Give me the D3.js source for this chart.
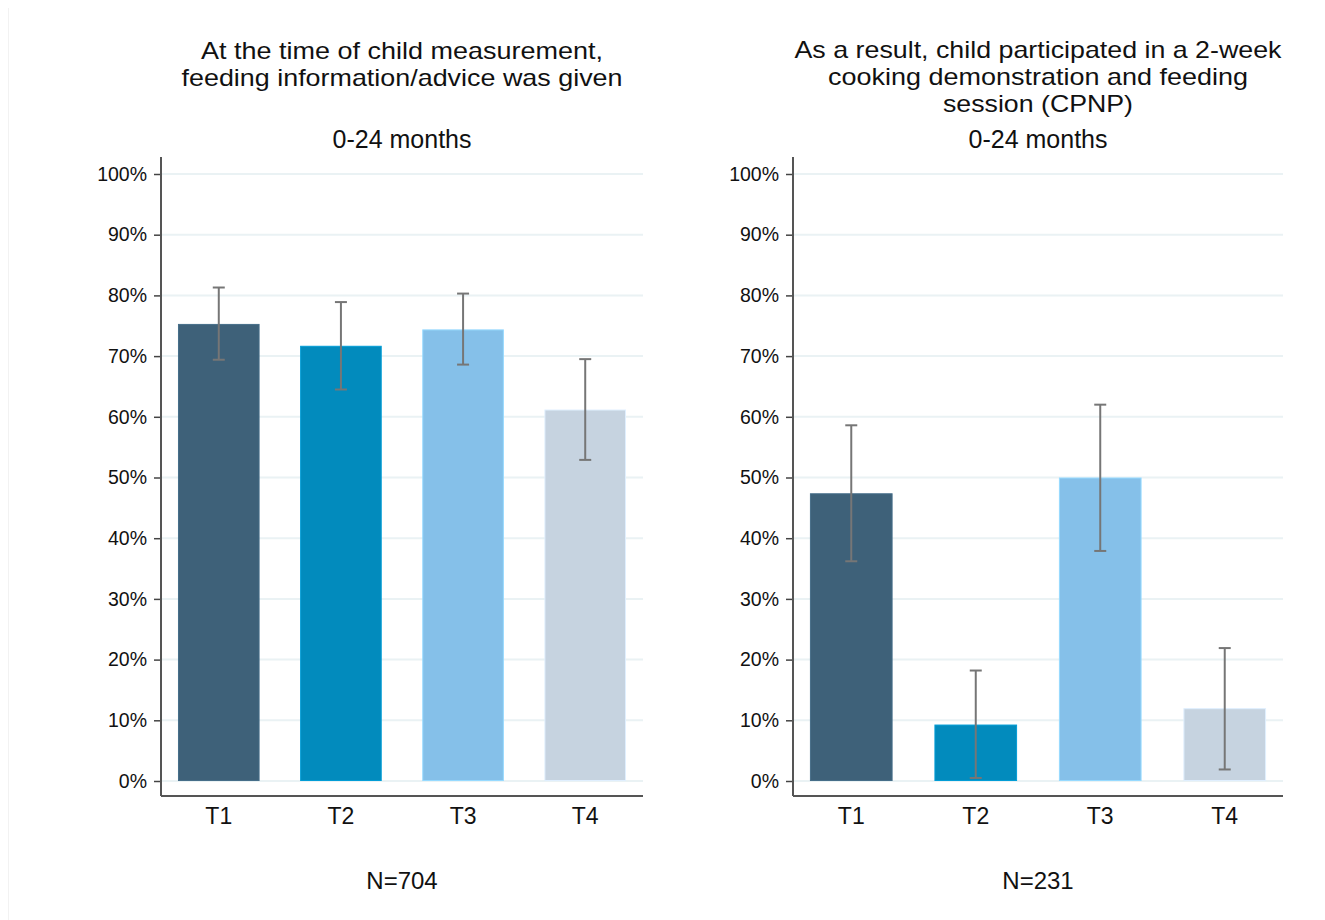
<!DOCTYPE html>
<html>
<head>
<meta charset="utf-8">
<script src="https://cdn.jsdelivr.net/npm/d3@7"></script>
<style>
  html, body { margin: 0; padding: 0; background: #fff; }
  svg { display: block; font-family: "Liberation Sans", Arial, sans-serif; }
</style>
</head>
<body>
<svg id="chart" width="1325" height="920"></svg>
<script>
// Time points
const categories = ["T1", "T2", "T3", "T4"];

// Panel 1: feeding information/advice given at child measurement (%)
const adviceValues = [75.3, 71.7, 74.4, 61.2];
const adviceLow    = [69.4, 64.5, 68.6, 52.9];
const adviceHigh   = [81.3, 78.9, 80.3, 69.5];

// Panel 2: participated in 2-week cooking demonstration (CPNP) (%)
const cpnpValues = [47.4, 9.3, 50.0, 12.0];
const cpnpLow    = [36.2, 0.5, 37.9, 1.9];
const cpnpHigh   = [58.6, 18.2, 62.0, 21.9];

const yTicks = [0, 10, 20, 30, 40, 50, 60, 70, 80, 90, 100];
const barColors = ["#3e6179", "#028bbd", "#85c0e9", "#c6d3e0"];

const panels = [
  {
    title: ["At the time of child measurement,", "feeding information/advice was given"],
    titleWidths: [402, 441],
    titleY: 59,
    subtitle: "0-24 months",
    note: "N=704",
    values: adviceValues, low: adviceLow, high: adviceHigh,
    left: 161, right: 643, pi: 0.332, po: 0.139
  },
  {
    title: ["As a result, child participated in a 2-week", "cooking demonstration and feeding", "session (CPNP)"],
    titleWidths: [487, 420, 190],
    titleY: 58.3,
    subtitle: "0-24 months",
    note: "N=231",
    values: cpnpValues, low: cpnpLow, high: cpnpHigh,
    left: 793, right: 1283, pi: 0.336, po: 0.136
  }
];

const svg = d3.select("#chart");
const yTop = 174, yZero = 781, axisBottom = 796, axisTop = 157;

const y = d3.scaleLinear().domain([0, 100]).range([yZero, yTop]);

// faint frame edge on the left
svg.append("line")
  .attr("x1", 8.5).attr("x2", 8.5)
  .attr("y1", 8).attr("y2", 920)
  .attr("stroke", "#f2f2f2").attr("stroke-width", 1);

panels.forEach(p => {
  const g = svg.append("g");
  const cx = (p.left + p.right) / 2;

  const x = d3.scaleBand()
    .domain(categories)
    .range([p.left, p.right])
    .paddingInner(p.pi)
    .paddingOuter(p.po);

  // title lines
  p.title.forEach((line, i) => {
    g.append("text")
      .attr("x", cx)
      .attr("y", p.titleY + i * 26.6)
      .attr("text-anchor", "middle")
      .attr("font-size", 23.8)
      .attr("fill", "#111")
      .attr("textLength", p.titleWidths[i])
      .attr("lengthAdjust", "spacingAndGlyphs")
      .text(line);
  });

  g.append("text")
    .attr("x", cx).attr("y", 148)
    .attr("text-anchor", "middle")
    .attr("font-size", 25)
    .attr("fill", "#111")
    .text(p.subtitle);

  // horizontal gridlines
  g.append("g")
    .selectAll("line")
    .data(yTicks)
    .join("line")
    .attr("x1", p.left + 1).attr("x2", p.right)
    .attr("y1", d => y(d)).attr("y2", d => y(d))
    .attr("stroke", "#eaf2f4")
    .attr("stroke-width", 2);

  // y axis
  const yAxis = d3.axisLeft(y)
    .tickValues(yTicks)
    .tickFormat(d => d + "%")
    .tickSize(7)
    .tickPadding(7);
  const ya = g.append("g")
    .attr("transform", `translate(${p.left},0)`)
    .call(yAxis);
  ya.select(".domain").remove();
  ya.selectAll(".tick line").attr("stroke", "#444").attr("stroke-width", 1.5);
  ya.selectAll(".tick text")
    .attr("font-size", 19.5)
    .attr("fill", "#111")
    .attr("font-family", "Liberation Sans, Arial, sans-serif");

  // bars
  g.append("g")
    .selectAll("rect")
    .data(categories)
    .join("rect")
    .attr("x", d => x(d) + 0.5)
    .attr("width", x.bandwidth() - 1)
    .attr("y", (d, i) => y(p.values[i]) + 0.5)
    .attr("height", (d, i) => y(0) - y(p.values[i]) - 1)
    .attr("fill", (d, i) => barColors[i])
    .attr("stroke", (d, i) => d3.color(barColors[i]).brighter(0.35))
    .attr("stroke-width", 1);

  // confidence intervals
  const eb = g.append("g")
    .attr("stroke", "#767676")
    .attr("stroke-width", 2);
  categories.forEach((c, i) => {
    const mx = x(c) + x.bandwidth() / 2;
    eb.append("line")
      .attr("x1", mx).attr("x2", mx)
      .attr("y1", y(p.low[i])).attr("y2", y(p.high[i]));
    [p.low[i], p.high[i]].forEach(v => {
      eb.append("line")
        .attr("x1", mx - 6).attr("x2", mx + 6)
        .attr("y1", y(v)).attr("y2", y(v));
    });
  });

  // axis lines
  g.append("line")
    .attr("x1", p.left).attr("x2", p.left)
    .attr("y1", axisTop).attr("y2", axisBottom)
    .attr("stroke", "#555").attr("stroke-width", 2);
  g.append("line")
    .attr("x1", p.left).attr("x2", p.right)
    .attr("y1", axisBottom).attr("y2", axisBottom)
    .attr("stroke", "#555").attr("stroke-width", 2);

  // x category labels
  const xAxis = d3.axisBottom(x).tickSize(0).tickPadding(0);
  const xa = g.append("g")
    .attr("transform", `translate(0,${axisBottom})`)
    .call(xAxis);
  xa.select(".domain").remove();
  xa.selectAll(".tick text")
    .attr("y", 28)
    .attr("dy", 0)
    .attr("font-size", 23)
    .attr("fill", "#111")
    .attr("font-family", "Liberation Sans, Arial, sans-serif");

  // sample size
  g.append("text")
    .attr("x", cx).attr("y", 889)
    .attr("text-anchor", "middle")
    .attr("font-size", 24)
    .attr("fill", "#111")
    .text(p.note);
});
</script>
</body>
</html>
